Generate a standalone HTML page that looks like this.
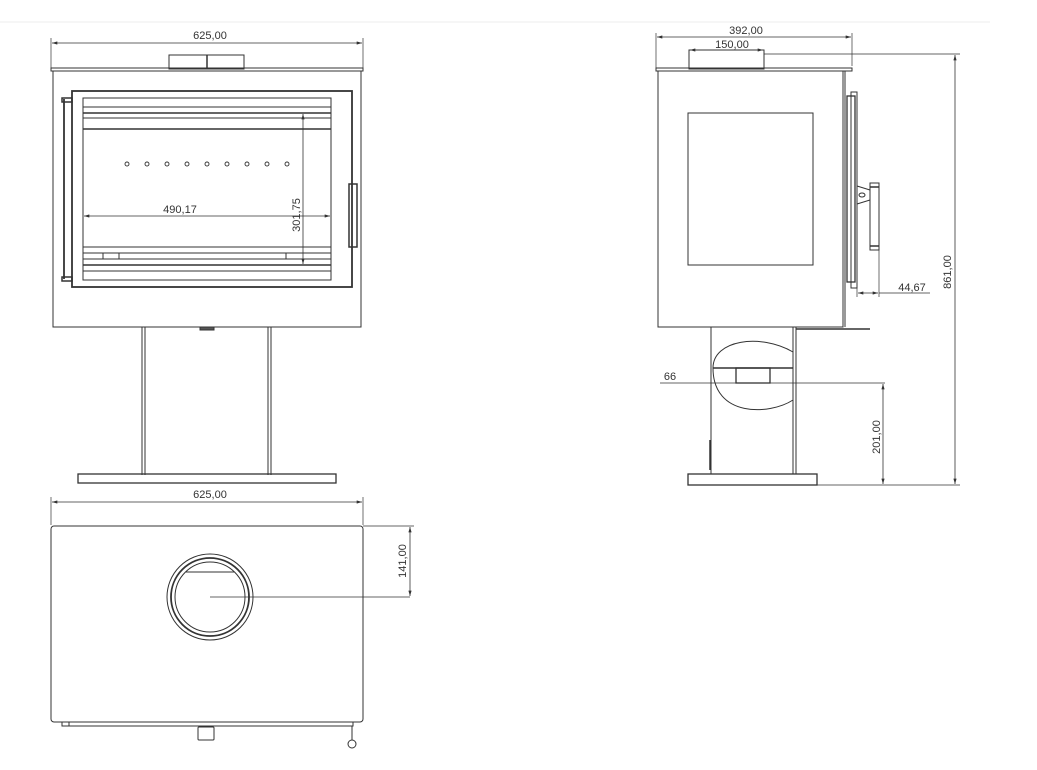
<!DOCTYPE html>
<html><head><meta charset="utf-8"><style>
html,body{margin:0;padding:0;background:#fff;}
svg{display:block;}
text{font-family:"Liberation Sans",sans-serif;font-size:11px;fill:#333;}
</style></head><body>
<svg width="1037" height="770" viewBox="0 0 1037 770" xmlns="http://www.w3.org/2000/svg">
<defs>
<marker id="a" viewBox="0 0 10 6" refX="10" refY="3" markerWidth="8" markerHeight="4" orient="auto-start-reverse"><path d="M0,0 L10,3 L0,6z" fill="#333"/></marker>
</defs>
<line x1="0" y1="22" x2="990" y2="22" stroke="#eee" stroke-width="1"/>
<g fill="none" stroke="#333" stroke-width="1">
<!-- FRONT VIEW -->
<line x1="51" y1="38" x2="51" y2="68" stroke-width="0.7"/><line x1="363" y1="38" x2="363" y2="68" stroke-width="0.7"/>
<line x1="52" y1="43" x2="362" y2="43" marker-start="url(#a)" marker-end="url(#a)" stroke-width="0.8"/>
<rect x="169" y="55" width="75" height="14"/><line x1="207" y1="55" x2="207" y2="69" stroke-width="1.5"/>
<rect x="51" y="68" width="312" height="3"/>
<rect x="53" y="71" width="308" height="256"/>
<rect x="72" y="91" width="280" height="196" stroke-width="1.8"/>
<line x1="64" y1="99" x2="64" y2="279" stroke-width="1.8"/>
<rect x="62" y="98" width="10" height="4" stroke-width="1.5"/><rect x="62" y="277" width="10" height="4" stroke-width="1.5"/>
<rect x="83" y="98" width="248" height="182"/>
<line x1="83" y1="107" x2="331" y2="107"/><line x1="83" y1="113" x2="331" y2="113" stroke-width="1.6"/><line x1="83" y1="118" x2="331" y2="118"/><line x1="83" y1="129" x2="331" y2="129" stroke-width="1.6"/>
<line x1="83" y1="247" x2="331" y2="247"/><line x1="83" y1="253" x2="331" y2="253"/><line x1="83" y1="265" x2="331" y2="265" stroke-width="1.6"/><line x1="83" y1="271" x2="331" y2="271"/>
<line x1="103" y1="253" x2="103" y2="259"/><line x1="119" y1="253" x2="119" y2="259"/><line x1="286" y1="253" x2="286" y2="259"/>
<line x1="83" y1="259" x2="331" y2="259"/>
<g stroke-width="0.9"><circle cx="127" cy="164" r="2"/><circle cx="147" cy="164" r="2"/><circle cx="167" cy="164" r="2"/><circle cx="187" cy="164" r="2"/><circle cx="207" cy="164" r="2"/><circle cx="227" cy="164" r="2"/><circle cx="247" cy="164" r="2"/><circle cx="267" cy="164" r="2"/><circle cx="287" cy="164" r="2"/></g>
<line x1="84" y1="216" x2="330" y2="216" marker-start="url(#a)" marker-end="url(#a)" stroke-width="0.8"/>
<line x1="303" y1="114" x2="303" y2="264" marker-start="url(#a)" marker-end="url(#a)" stroke-width="0.8"/>
<rect x="349" y="184" width="8" height="63" stroke-width="1.5"/>
<line x1="142" y1="327" x2="142" y2="475"/><line x1="145" y1="327" x2="145" y2="475"/>
<line x1="268" y1="327" x2="268" y2="475"/><line x1="271" y1="327" x2="271" y2="475"/>
<rect x="200" y="327" width="14" height="3" fill="#555"/>
<rect x="78" y="474" width="258" height="9" stroke-width="1.3"/>
<!-- PLAN VIEW -->
<line x1="51" y1="497" x2="51" y2="525" stroke-width="0.7"/><line x1="363" y1="497" x2="363" y2="525" stroke-width="0.7"/>
<line x1="52" y1="502" x2="362" y2="502" marker-start="url(#a)" marker-end="url(#a)" stroke-width="0.8"/>
<rect x="51" y="526" width="312" height="196" rx="3"/>
<circle cx="210" cy="597" r="43"/><circle cx="210" cy="597" r="39" stroke-width="1.8"/><circle cx="210" cy="597" r="35"/>
<line x1="186" y1="572" x2="234" y2="572"/>
<line x1="210" y1="597" x2="410" y2="597" stroke-width="0.8"/>
<line x1="363" y1="526" x2="414" y2="526" stroke-width="0.7"/>
<line x1="410" y1="527" x2="410" y2="596" marker-start="url(#a)" marker-end="url(#a)" stroke-width="0.8"/>
<rect x="62" y="722" width="291" height="4"/><rect x="62" y="722" width="7" height="4"/>
<rect x="198" y="727" width="16" height="13" rx="1"/>
<line x1="352" y1="726" x2="352" y2="740"/><circle cx="352" cy="744" r="4"/>
<!-- SIDE VIEW -->
<line x1="656" y1="33" x2="656" y2="68" stroke-width="0.7"/><line x1="852" y1="33" x2="852" y2="66" stroke-width="0.7"/>
<line x1="657" y1="37" x2="851" y2="37" marker-start="url(#a)" marker-end="url(#a)" stroke-width="0.8"/>
<line x1="690" y1="50" x2="763" y2="50" marker-start="url(#a)" marker-end="url(#a)" stroke-width="0.8"/>
<rect x="689" y="50" width="75" height="19"/>
<line x1="764" y1="54" x2="960" y2="54" stroke-width="0.7"/>
<rect x="656" y="68" width="196" height="3"/>
<rect x="658" y="71" width="185" height="256"/>
<line x1="845" y1="71" x2="845" y2="327"/>
<rect x="688" y="113" width="125" height="152"/>
<rect x="847" y="96" width="8" height="186" stroke-width="1.3"/>
<rect x="851" y="92" width="6" height="196"/>
<rect x="870" y="183" width="9" height="67"/>
<line x1="870" y1="187" x2="879" y2="187" stroke-width="1.5"/><line x1="870" y1="246" x2="879" y2="246" stroke-width="1.5"/>
<path d="M857,186 L870,190 L870,200 L857,204"/><ellipse cx="862" cy="195" rx="3" ry="2"/>
<line x1="857" y1="288" x2="857" y2="297" stroke-width="0.7"/><line x1="879" y1="250" x2="879" y2="297" stroke-width="0.7"/>
<line x1="858" y1="293" x2="878" y2="293" marker-start="url(#a)" marker-end="url(#a)" stroke-width="0.8"/>
<line x1="879" y1="293" x2="930" y2="293" stroke-width="0.8"/>
<line x1="955" y1="55" x2="955" y2="484" marker-start="url(#a)" marker-end="url(#a)" stroke-width="0.8"/>
<line x1="711" y1="327" x2="711" y2="474"/><line x1="793" y1="327" x2="793" y2="474"/><line x1="796" y1="327" x2="796" y2="474"/>
<line x1="796" y1="329" x2="870" y2="329" stroke-width="1.5"/>
<path d="M713,368 C713,340 760,333 793,352 L793,400 C770,415 713,418 713,368z"/>
<line x1="713" y1="368" x2="793" y2="368" stroke-width="1.5"/>
<rect x="736" y="368" width="34" height="15" stroke-width="1.3"/>
<line x1="660" y1="383" x2="885" y2="383" stroke-width="0.8"/>
<line x1="883" y1="384" x2="883" y2="484" marker-start="url(#a)" marker-end="url(#a)" stroke-width="0.8"/>
<line x1="817" y1="485" x2="960" y2="485" stroke-width="0.7"/>
<line x1="710" y1="440" x2="710" y2="470" stroke-width="1.5"/>
<rect x="688" y="474" width="129" height="11" stroke-width="1.3"/>
</g>
<text x="210" y="39" text-anchor="middle">625,00</text>
<text x="180" y="213" text-anchor="middle">490,17</text>
<text transform="translate(300,215) rotate(-90)" text-anchor="middle">301,75</text>
<text x="210" y="498" text-anchor="middle">625,00</text>
<text transform="translate(406,561) rotate(-90)" text-anchor="middle">141,00</text>
<text x="746" y="34" text-anchor="middle">392,00</text>
<text x="732" y="48" text-anchor="middle">150,00</text>
<text x="912" y="291" text-anchor="middle">44,67</text>
<text transform="translate(951,272) rotate(-90)" text-anchor="middle">861,00</text>
<text x="670" y="380" text-anchor="middle">66</text>
<text transform="translate(880,437) rotate(-90)" text-anchor="middle">201,00</text>
</svg>
</body></html>
